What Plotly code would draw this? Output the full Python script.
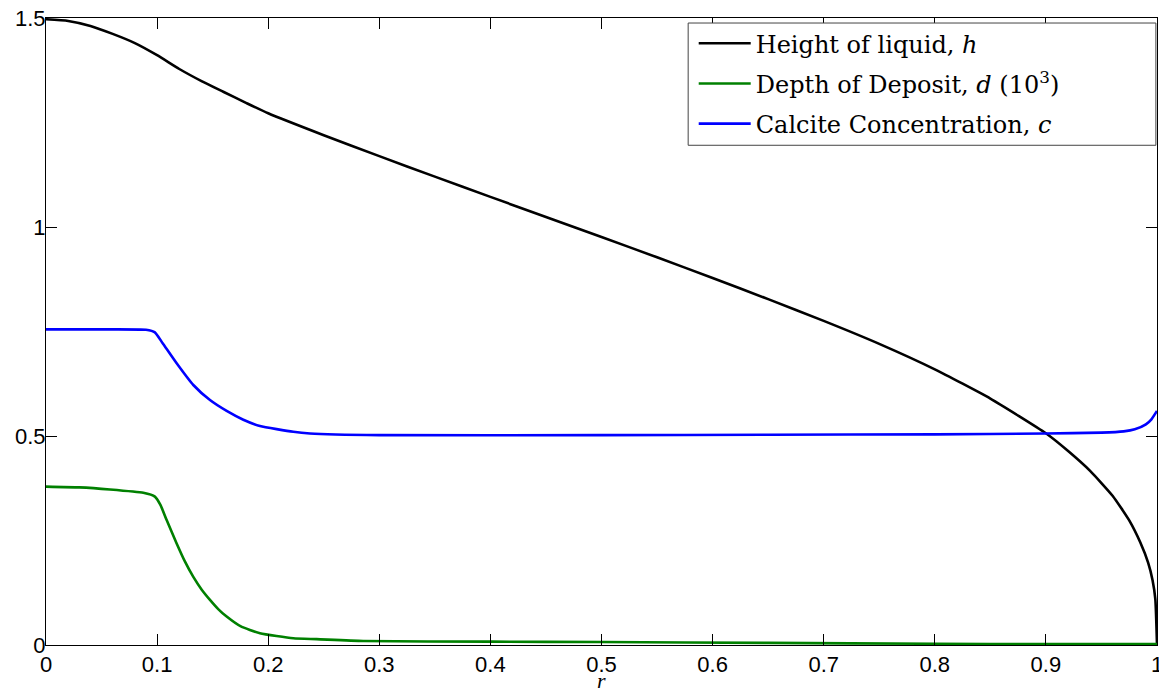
import plotly.graph_objects as go

# ---- data ----
r_h = [0.0, 0.02, 0.04, 0.06, 0.08, 0.1, 0.12, 0.14, 0.16, 0.18, 0.2, 0.25, 0.3, 0.35,
       0.4, 0.45, 0.5, 0.55, 0.6, 0.65, 0.7, 0.75, 0.8, 0.85, 0.9, 0.92, 0.94, 0.96,
       0.975, 0.985, 0.992, 0.996, 0.9985, 1.0]
h = [1.497, 1.493, 1.481, 1.462, 1.440, 1.411, 1.378, 1.349, 1.323, 1.297, 1.272, 1.2195,
     1.1695, 1.1205, 1.072, 1.024, 0.976, 0.9275, 0.878, 0.8275, 0.7755, 0.7205, 0.6595,
     0.5895, 0.5065, 0.464, 0.416, 0.357, 0.298, 0.245, 0.197, 0.155, 0.110, 0.0]

r_d = [0.0, 0.03, 0.0576, 0.0876, 0.098, 0.103, 0.1086, 0.1176, 0.125, 0.1326, 0.14,
       0.1476, 0.155, 0.1626, 0.175, 0.1926, 0.2226, 0.2436, 0.2856, 0.4, 0.5, 0.65,
       0.8, 0.9, 1.0]
d = [0.379, 0.377, 0.372, 0.364, 0.355, 0.335, 0.299, 0.243, 0.200, 0.163, 0.133,
     0.108, 0.086, 0.068, 0.045, 0.028, 0.016, 0.014, 0.0096, 0.008, 0.007, 0.005,
     0.003, 0.002, 0.002]

r_c = [0.0, 0.05, 0.09, 0.098, 0.105, 0.1176, 0.1326, 0.1476, 0.1626, 0.1776, 0.1926,
       0.2226, 0.2376, 0.3, 0.5, 0.65, 0.8, 0.9, 0.95, 0.97, 0.98, 0.99, 0.995, 1.0]
c = [0.755, 0.755, 0.754, 0.748, 0.722, 0.674, 0.622, 0.586, 0.560, 0.539, 0.524,
     0.510, 0.506, 0.502, 0.502, 0.503, 0.504, 0.506, 0.508, 0.511, 0.516, 0.528,
     0.540, 0.560]

x_ticks = [0, 0.1, 0.2, 0.3, 0.4, 0.5, 0.6, 0.7, 0.8, 0.9, 1]
x_tick_text = ["0", "0.1", "0.2", "0.3", "0.4", "0.5", "0.6", "0.7", "0.8", "0.9", "1"]
y_ticks = [0, 0.5, 1, 1.5]
y_tick_text = ["0", "0.5", "1", "1.5"]

names = ["Height of liquid, <i>h</i>",
         "Depth of Deposit, <i>d</i> (10<sup>3</sup>)",
         "Calcite Concentration, <i>c</i>"]
colors = ["#000000", "#008000", "#0000ff"]

fig = go.Figure()
for i, (xs, ys) in enumerate([(r_h, h), (r_d, d), (r_c, c)]):
    fig.add_trace(go.Scatter(x=xs, y=ys, mode="lines", name=names[i],
                             line=dict(color=colors[i], width=2.6, shape="spline", smoothing=0.5),
                             legendgroup=str(i)))

axis_common = dict(showgrid=False, zeroline=False, showline=True, linecolor="black",
                   linewidth=1, mirror="ticks", ticks="inside", ticklen=11,
                   tickcolor="black", tickwidth=1, ticklabeloverflow="allow",
                   automargin=False,
                   tickfont=dict(family="Liberation Sans, Arial, sans-serif", size=22, color="black"))

fig.update_xaxes(range=[0, 1], tickvals=x_ticks, ticktext=x_tick_text, **axis_common)
fig.update_yaxes(range=[0, 1.5], tickvals=y_ticks, ticktext=y_tick_text,
                 ticklabelstandoff=-5, **axis_common)

# legend box
fig.add_shape(type="rect", xref="paper", yref="paper",
              x0=0.578, x1=0.999, y0=0.797, y1=0.992,
              line=dict(color="#444444", width=1), fillcolor="white", layer="above")

fig.add_annotation(text="<i>r</i>", xref="paper", yref="paper", x=0.5, y=0,
                   yanchor="top", yshift=-21, showarrow=False,
                   font=dict(family="Liberation Serif, serif", size=22, color="black"))

fig.update_layout(
    width=1159, height=690,
    margin=dict(l=46, r=2, t=18, b=45, autoexpand=False),
    plot_bgcolor="white", paper_bgcolor="white",
    showlegend=True,
    legend=dict(x=0.583, y=0.995, xanchor="left", yanchor="top",
                bgcolor="rgba(0,0,0,0)", borderwidth=0,
                font=dict(family="DejaVu Serif, serif", size=24, color="black"),
                traceorder="grouped", tracegroupgap=6, itemwidth=52),
)

fig.write_html("out.html", config={"displayModeBar": False},
               post_script="document.body.style.margin='0';document.body.style.overflow='hidden';")
